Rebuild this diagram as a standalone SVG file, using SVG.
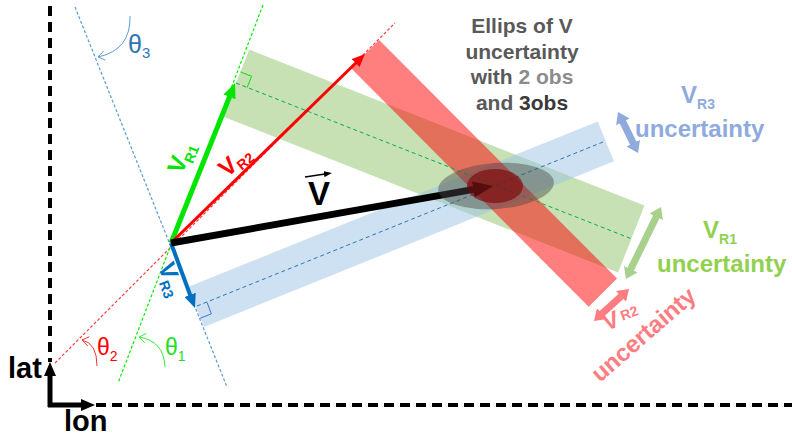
<svg xmlns="http://www.w3.org/2000/svg" width="792" height="436" viewBox="0 0 792 436">
<style>
text{font-family:"Liberation Sans",Arial,sans-serif;font-weight:bold}
.dot{fill:none;stroke-width:1.2;stroke-dasharray:3 2}
.ctr{fill:none;stroke-width:1;stroke-dasharray:4 3}
.axis{fill:none;stroke:#000;stroke-width:4;stroke-dasharray:10 6}
.thin{fill:none;stroke-width:1}
.th{font-weight:normal}
</style>
<defs>
<marker id="ahK" markerUnits="userSpaceOnUse" markerWidth="20" markerHeight="16" viewBox="0 0 20 16" refX="2" refY="8" orient="auto"><path d="M0,0 L20,8 L0,16z" fill="#000"/></marker>
<marker id="ahG" markerUnits="userSpaceOnUse" markerWidth="15" markerHeight="13" viewBox="0 0 15 13" refX="2" refY="6.5" orient="auto"><path d="M0,0 L15,6.5 L0,13z" fill="#00e600"/></marker>
<marker id="ahR" markerUnits="userSpaceOnUse" markerWidth="13" markerHeight="11" viewBox="0 0 13 11" refX="2" refY="5.5" orient="auto"><path d="M0,0 L13,5.5 L0,11z" fill="#ff0000"/></marker>
<marker id="ahB" markerUnits="userSpaceOnUse" markerWidth="14" markerHeight="12" viewBox="0 0 14 12" refX="2" refY="6" orient="auto"><path d="M0,0 L14,6 L0,12z" fill="#0070c0"/></marker>
<marker id="ahS" markerUnits="userSpaceOnUse" markerWidth="8" markerHeight="6" viewBox="0 0 8 6" refX="1" refY="3" orient="auto"><path d="M0,0 L8,3 L0,6z" fill="#000"/></marker>
<marker id="ahAx" markerUnits="userSpaceOnUse" markerWidth="14" markerHeight="12" viewBox="0 0 14 12" refX="2" refY="6" orient="auto"><path d="M0,0 L14,6 L0,12z" fill="#000"/></marker>
<marker id="dB" markerUnits="userSpaceOnUse" markerWidth="11" markerHeight="15" viewBox="0 0 11 15" refX="2" refY="7.5" orient="auto-start-reverse"><path d="M0,0 L11,7.5 L0,15z" fill="#8faadc"/></marker>
<marker id="dG" markerUnits="userSpaceOnUse" markerWidth="11" markerHeight="15" viewBox="0 0 11 15" refX="2" refY="7.5" orient="auto-start-reverse"><path d="M0,0 L11,7.5 L0,15z" fill="#a9d18e"/></marker>
<marker id="dR" markerUnits="userSpaceOnUse" markerWidth="11" markerHeight="15" viewBox="0 0 11 15" refX="2" refY="7.5" orient="auto-start-reverse"><path d="M0,0 L11,7.5 L0,15z" fill="#ff7c80"/></marker>
</defs>

<g id="axes">
<line class="axis" x1="50" y1="6" x2="50" y2="362"/>
<line class="axis" x1="96" y1="405" x2="792" y2="405"/>
<path d="M50,407 L50,374" stroke="#000" stroke-width="5" fill="none" marker-end="url(#ahAx)"/>
<path d="M48,405 L83,405" stroke="#000" stroke-width="5" fill="none" marker-end="url(#ahAx)"/>
<text x="8" y="378" font-size="29" fill="#000">lat</text>
<text x="64" y="431" font-size="29" fill="#000">lon</text>
</g>

<g id="bands">
<rect id="band-r1" transform="translate(236,83) rotate(21.55)" x="0" y="-36" width="425" height="72" fill="#a9d18e" fill-opacity="0.65"/>
<rect id="band-r3" transform="translate(196,307) rotate(-22)" x="0" y="-21.5" width="442" height="43" fill="#9dc3e6" fill-opacity="0.5"/>
<rect id="band-r2" transform="translate(365,54) rotate(45.1)" x="0" y="-20" width="337" height="40" fill="#ff0000" fill-opacity="0.5"/>
</g>

<g id="construction">
<line class="dot" x1="75" y1="7" x2="227" y2="387" stroke="#5b9bd5"/>
<line class="dot" x1="55" y1="363" x2="395" y2="23" stroke="#ff4040"/>
<line class="dot" x1="263" y1="5" x2="118" y2="383" stroke="#00ee00"/>
<line class="ctr" x1="236" y1="83" x2="632" y2="239" stroke="#00b050"/>
<line class="ctr" x1="197" y1="306" x2="603" y2="142" stroke="#2e75b6"/>
<path class="thin" d="M247.2,87.4 L251.6,76.3 L240.5,71.9" stroke="#00e600"/>
<path class="thin" d="M207.1,302.5 L211.3,313.8 L200.2,318.3" stroke="#4472c4"/>
<path class="thin" d="M130,16 Q131,50 98,57 M103.5,51.1 L98,57 L105.4,60.1" stroke="#5b9bd5"/>
<path class="thin" d="M97,366 Q97,343 82,340 M87.6,345.8 L82,340 L89.3,336.7" stroke="#ff3333"/>
<path class="thin" d="M165,367 Q164,341 139,337 M144.8,342.6 L139,337 L146.2,333.5" stroke="#33ee33"/>
</g>

<g id="connectors">
<line id="v-r1" x1="171" y1="243" x2="230.2" y2="95.1" stroke="#00e600" stroke-width="5" marker-end="url(#ahG)"/>
<line id="v-r2" x1="171" y1="243" x2="357.1" y2="61.7" stroke="#ff0000" stroke-width="3" marker-end="url(#ahR)"/>
<line id="v-r3" x1="171" y1="243" x2="190.8" y2="296.7" stroke="#0070c0" stroke-width="4" marker-end="url(#ahB)"/>
<line id="v" x1="171" y1="243" x2="475.3" y2="189.1" stroke="#000" stroke-width="7" marker-end="url(#ahK)"/>
<line x1="622" y1="120.1" x2="634.1" y2="144.9" stroke="#8faadc" stroke-width="7" marker-start="url(#dB)" marker-end="url(#dB)"/>
<line x1="657.1" y1="215.1" x2="629.9" y2="270.9" stroke="#a9d18e" stroke-width="7" marker-start="url(#dG)" marker-end="url(#dG)"/>
<line x1="600.6" y1="314.9" x2="622.4" y2="295.1" stroke="#ff7c80" stroke-width="7" marker-start="url(#dR)" marker-end="url(#dR)"/>
</g>

<g id="ellipses">
<ellipse cx="496" cy="186" rx="58" ry="23" transform="rotate(-4 496 186)" fill="#4a4a4a" fill-opacity="0.45"/>
<ellipse cx="495" cy="186" rx="28" ry="17" fill="#7a0000" fill-opacity="0.6"/>
</g>

<g id="labels">
<text transform="translate(182,175) rotate(-68)" fill="#00e600" font-size="24">V<tspan font-size="14" dx="-2" dy="6">R1</tspan></text>
<text transform="translate(227,178) rotate(-40)" fill="#ff0000" font-size="24">V<tspan font-size="14" dy="4">R2</tspan></text>
<text transform="translate(158,266) rotate(70)" fill="#0070c0" font-size="24">V<tspan font-size="14" dy="5">R3</tspan></text>
<text x="308" y="205" font-size="33" fill="#000">V</text>
<line x1="305" y1="177" x2="325" y2="174" stroke="#000" stroke-width="1.5" marker-end="url(#ahS)"/>
<text x="128" y="53" font-size="25" fill="#2e75b6" class="th">θ<tspan font-size="15" dy="5">3</tspan></text>
<text x="97" y="355" font-size="23" fill="#ff0000" class="th">θ<tspan font-size="14" dy="6">2</tspan></text>
<text x="165" y="355" font-size="23" fill="#22e022" class="th">θ<tspan font-size="14" dy="6">1</tspan></text>
</g>

<g id="ellips-note" font-size="21" fill="#595959" text-anchor="middle">
<text x="522" y="33">Ellips of V</text>
<text x="522" y="59">uncertainty</text>
<text x="522" y="84">with <tspan fill="#8c8c8c">2 obs</tspan></text>
<text x="522" y="110">and <tspan fill="#3a3a3a">3obs</tspan></text>
</g>

<g id="r3-unc" fill="#8faadc">
<text x="681" y="103" font-size="24">V<tspan font-size="14" dy="6">R3</tspan></text>
<text x="635" y="137" font-size="24">uncertainty</text>
</g>
<g id="r1-unc" fill="#92d050">
<text x="703" y="238" font-size="24">V<tspan font-size="14" dy="6">R1</tspan></text>
<text x="657" y="272" font-size="24">uncertainty</text>
</g>
<g id="r2-unc" fill="#ff7c80">
<text transform="translate(606,331) rotate(-20)" font-size="24">V<tspan font-size="14" dx="3" dy="-4">R2</tspan></text>
<text transform="translate(600,383) rotate(-41)" font-size="24">uncertainty</text>
</g>
</svg>
